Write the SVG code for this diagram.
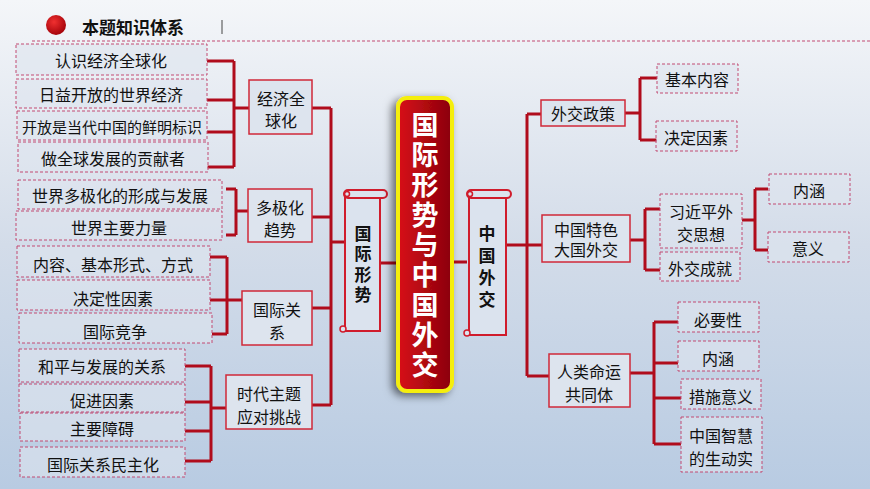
<svg xmlns="http://www.w3.org/2000/svg" width="870" height="489" viewBox="0 0 870 489">
<defs>
<linearGradient id="bg" x1="0" y1="0" x2="0" y2="1"><stop offset="0" stop-color="#f4f6f9"/><stop offset="0.5" stop-color="#d3dce9"/><stop offset="1" stop-color="#b8cbe2"/></linearGradient>
<linearGradient id="mainf" x1="0" y1="0" x2="1" y2="0"><stop offset="0" stop-color="#d8101a"/><stop offset="1" stop-color="#8a0008"/></linearGradient>
<radialGradient id="dot" cx="0.4" cy="0.35" r="0.7"><stop offset="0" stop-color="#f03030"/><stop offset="1" stop-color="#a00008"/></radialGradient>
<filter id="sh" x="-30%" y="-10%" width="160%" height="120%"><feDropShadow dx="-4" dy="3" stdDeviation="4" flood-color="#000" flood-opacity="0.55"/></filter>
</defs>
<style>
text{font-family:"Noto Sans CJK SC","Noto Sans",sans-serif;fill:#111;text-anchor:middle;dominant-baseline:central}
.t{font-size:16px}
.d{fill:#dde4ee;fill-opacity:0.6;stroke:#c24a72;stroke-width:1;stroke-dasharray:3,2}
.s{fill:#dde4ee;stroke:#d02838;stroke-width:1.5}
.c{fill:none;stroke:#b00c1c;stroke-width:3}
.sc{fill:#dbe3ee;stroke:#d01c2c;stroke-width:2}
.v{font-size:17px;font-weight:bold}
.m{font-size:27px;font-weight:bold;fill:#fff}
</style>
<rect width="870" height="489" fill="url(#bg)"/>
<g id="header">
<circle cx="56" cy="25" r="10" fill="url(#dot)"/>
<text x="82" y="26" style="font-size:17px;font-weight:bold;text-anchor:start">本题知识体系</text>
<line x1="222" y1="20" x2="222" y2="34" stroke="#444" stroke-width="1"/>
<line x1="32" y1="41" x2="870" y2="41" stroke="#c24a72" stroke-width="1" stroke-dasharray="3,2"/>
</g>
<g id="connectors">
<path class="c" d="M207 61H234M207 100H234M207 132H234M207 167H234M234 61V167M234 108H249"/>
<path class="c" d="M226 189H236M226 235H236M236 189V235M236 211H248" stroke="#7a1018"/>
<path class="c" d="M210 257H227M210 300H227M212 334H227M227 257V334M227 300H242"/>
<path class="c" d="M185 366H211M185 402H211M185 431H211M185 461H211M211 366V461M211 408H226"/>
<path class="c" d="M312 108H331M312 217H331M312 308H331M312 405H331M331 108V405M331 242H345"/>
<path class="c" d="M381 263H397M453 262H467M507 245H527M527 114V376M527 114H541M527 245H542M527 376H549"/>
<path class="c" d="M625 113H640M640 78V140M640 78H657M640 140H657"/>
<path class="c" d="M630 240H645M645 209V270M645 209H660M645 270H660"/>
<path class="c" d="M742 220H755M755 189V250M755 189H768M755 250H768"/>
<path class="c" d="M630 373H654M654 322V444M654 322H678M654 363H678M654 398H681M654 444H681"/>
</g>
<g id="n1"><rect class="d" x="16" y="44" width="191" height="31"/><text class="t" x="111" y="60">认识经济全球化</text></g>
<g id="n2"><rect class="d" x="16" y="79" width="191" height="29"/><text class="t" x="111" y="94">日益开放的世界经济</text></g>
<g id="n3"><rect class="d" x="17" y="111" width="190" height="29"/><text x="112" y="126" style="font-size:15px">开放是当代中国的鲜明标识</text></g>
<g id="n4"><rect class="d" x="18" y="142" width="190" height="30"/><text class="t" x="113" y="158">做全球发展的贡献者</text></g>
<g id="n5"><rect class="d" x="18" y="180" width="204" height="29"/><text class="t" x="120" y="195">世界多极化的形成与发展</text></g>
<g id="n6"><rect class="d" x="16" y="211" width="206" height="29"/><text class="t" x="119" y="227">世界主要力量</text></g>
<g id="n7"><rect class="d" x="17" y="246" width="193" height="31"/><text class="t" x="113" y="264">内容、基本形式、方式</text></g>
<g id="n8"><rect class="d" x="17" y="280" width="193" height="30"/><text class="t" x="113" y="298">决定性因素</text></g>
<g id="n9"><rect class="d" x="19" y="313" width="193" height="30"/><text class="t" x="115" y="331">国际竞争</text></g>
<g id="n10"><rect class="d" x="19" y="349" width="166" height="33"/><text class="t" x="102" y="366">和平与发展的关系</text></g>
<g id="n11"><rect class="d" x="19" y="384" width="166" height="28"/><text class="t" x="102" y="400">促进因素</text></g>
<g id="n12"><rect class="d" x="20" y="413" width="165" height="28"/><text class="t" x="102" y="428">主要障碍</text></g>
<g id="n13"><rect class="d" x="20" y="447" width="165" height="30"/><text class="t" x="103" y="464">国际关系民主化</text></g>
<g id="a1"><rect class="s" x="249" y="80" width="63" height="54"/><text class="t" x="281" y="98">经济全</text><text class="t" x="281" y="120">球化</text></g>
<g id="a2"><rect class="s" x="248" y="189" width="64" height="53"/><text class="t" x="280" y="207">多极化</text><text class="t" x="280" y="229">趋势</text></g>
<g id="a3"><rect class="s" x="242" y="291" width="70" height="54"/><text class="t" x="277" y="309">国际关</text><text class="t" x="277" y="332">系</text></g>
<g id="a4"><rect class="s" x="226" y="375" width="86" height="54"/><text class="t" x="269" y="393">时代主题</text><text class="t" x="269" y="416">应对挑战</text></g>
<g id="scrollL">
<path class="sc" d="M345 196H380V331H345Z"/>
<rect class="sc" x="344" y="190" width="43" height="8" rx="4"/>
<circle cx="347" cy="194" r="2.5" fill="none" stroke="#d01c2c" stroke-width="1.5"/>
<circle cx="343" cy="329" r="3" fill="#dbe3ee" stroke="#d01c2c" stroke-width="1.5"/>
<text class="v" x="363" y="232">国</text><text class="v" x="363" y="252">际</text><text class="v" x="363" y="273">形</text><text class="v" x="363" y="293">势</text>
</g>
<g id="main">
<rect x="398" y="98" width="54" height="293" rx="9" fill="url(#mainf)" stroke="#f5ee10" stroke-width="4" filter="url(#sh)"/>
<text class="m" x="425" y="123">国</text><text class="m" x="425" y="153">际</text><text class="m" x="425" y="183">形</text><text class="m" x="425" y="213">势</text><text class="m" x="425" y="243">与</text><text class="m" x="425" y="273">中</text><text class="m" x="425" y="303">国</text><text class="m" x="425" y="333">外</text><text class="m" x="425" y="363">交</text>
</g>
<g id="scrollR">
<path class="sc" d="M469 196H506V335H469Z"/>
<rect class="sc" x="467" y="190" width="44" height="8" rx="4"/>
<circle cx="470" cy="194" r="2.5" fill="none" stroke="#d01c2c" stroke-width="1.5"/>
<circle cx="467" cy="333" r="3" fill="#dbe3ee" stroke="#d01c2c" stroke-width="1.5"/>
<text class="v" x="487" y="232">中</text><text class="v" x="487" y="254">国</text><text class="v" x="487" y="276">外</text><text class="v" x="487" y="298">交</text>
</g>
<g id="b1"><rect class="s" x="541" y="100" width="84" height="26"/><text class="t" x="583" y="113">外交政策</text></g>
<g id="b2"><rect class="s" x="542" y="215" width="88" height="47"/><text class="t" x="586" y="229">中国特色</text><text class="t" x="586" y="249">大国外交</text></g>
<g id="b3"><rect class="s" x="549" y="354" width="81" height="53"/><text class="t" x="589" y="371">人类命运</text><text class="t" x="589" y="394">共同体</text></g>
<g id="c1"><rect class="d" x="657" y="64" width="81" height="29"/><text class="t" x="697" y="79">基本内容</text></g>
<g id="c2"><rect class="d" x="656" y="121" width="81" height="30"/><text class="t" x="696" y="137">决定因素</text></g>
<g id="c3"><rect class="d" x="660" y="194" width="82" height="54"/><text class="t" x="701" y="211">习近平外</text><text class="t" x="701" y="234">交思想</text></g>
<g id="c4"><rect class="d" x="660" y="252" width="80" height="29"/><text class="t" x="700" y="268">外交成就</text></g>
<g id="c5"><rect class="d" x="769" y="174" width="81" height="30"/><text class="t" x="809" y="190">内涵</text></g>
<g id="c6"><rect class="d" x="768" y="232" width="81" height="30"/><text class="t" x="808" y="248">意义</text></g>
<g id="c7"><rect class="d" x="678" y="302" width="81" height="30"/><text class="t" x="718" y="319">必要性</text></g>
<g id="c8"><rect class="d" x="678" y="341" width="81" height="30"/><text class="t" x="718" y="358">内涵</text></g>
<g id="c9"><rect class="d" x="681" y="379" width="80" height="30"/><text class="t" x="721" y="396">措施意义</text></g>
<g id="c10"><rect class="d" x="681" y="417" width="81" height="55"/><text class="t" x="721" y="435">中国智慧</text><text class="t" x="721" y="458">的生动实</text></g>
</svg>
